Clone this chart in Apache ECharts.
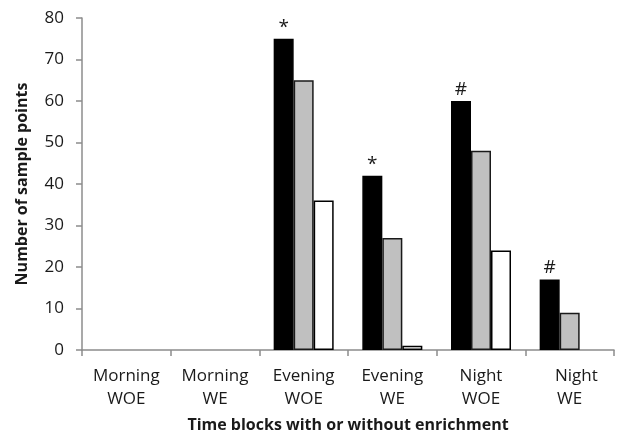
<!DOCTYPE html>
<html>
<head>
<meta charset="utf-8">
<script src="https://cdn.jsdelivr.net/npm/echarts@6/dist/echarts.min.js"></script>
<style>
  html, body { margin: 0; padding: 0; background: #fff; }
  #chart { width: 617px; height: 436px; }
</style>
</head>
<body>
<div id="chart"></div>
<script>
// categories on the x axis
const categories = ["Morning\nWOE", "Morning\nWE", "Evening\nWOE", "Evening\nWE", "Night\nWOE", "   Night\nWE"];
// three series per block (black, grey, white); '-' = no bar
const blackValues = ["-", "-", 75, 42, 60, 17];
const greyValues = ["-", "-", 65, 27, 48, 9];
const whiteValues = ["-", "-", 36, 1, 24, "-"];
// significance marks above the black bars
const marks = ["", "", "*", "*", "#", "#"];

const txt = "#1a1a1a";
const font = "Open Sans";

const chart = echarts.init(document.getElementById("chart"));

function barSeries(values, fill, stroke) {
  return {
    type: "bar",
    data: values,
    barWidth: 20,
    barGap: "0%",
    itemStyle: { color: fill, borderColor: stroke, borderWidth: 1.5 },
  };
}

const black = barSeries(blackValues, "#000000", "#000000");
black.label = {
  show: true,
  position: "top",
  distance: 2,
  color: txt,
  fontFamily: font,
  fontSize: 19,
  formatter: (p) => marks[p.dataIndex],
};

const option = {
  animation: false,
  backgroundColor: "#fff",
  grid: { left: 82, right: 3, top: 18, bottom: 86, outerBoundsMode: "none", containLabel: false },
  xAxis: {
    type: "category",
    data: categories,
    name: "Time blocks with or without enrichment",
    nameLocation: "middle",
    nameGap: 67,
    nameTextStyle: { color: txt, fontFamily: font, fontSize: 16, fontWeight: "bold" },
    axisLine: { lineStyle: { color: "#8c8c8c", width: 1.5 } },
    axisTick: { show: true, length: 6, lineStyle: { color: "#8c8c8c", width: 1.5 } },
    axisLabel: { color: txt, fontFamily: font, fontSize: 17, lineHeight: 23, margin: 15 },
  },
  yAxis: {
    type: "value",
    min: 0,
    max: 80,
    interval: 10,
    name: "Number of sample points",
    nameLocation: "middle",
    nameGap: 52,
    nameTextStyle: { color: txt, fontFamily: font, fontSize: 16, fontWeight: "bold" },
    axisLine: { show: true, lineStyle: { color: "#8c8c8c", width: 1.5 } },
    axisTick: { show: true, length: 6, lineStyle: { color: "#8c8c8c", width: 1.5 } },
    axisLabel: { color: txt, fontFamily: font, fontSize: 17, margin: 18 },
    splitLine: { show: false },
  },
  series: [
    black,
    barSeries(greyValues, "#c0c0c0", "#1a1a1a"),
    barSeries(whiteValues, "#ffffff", "#000000"),
  ],
};

chart.setOption(option);
</script>
</body>
</html>
